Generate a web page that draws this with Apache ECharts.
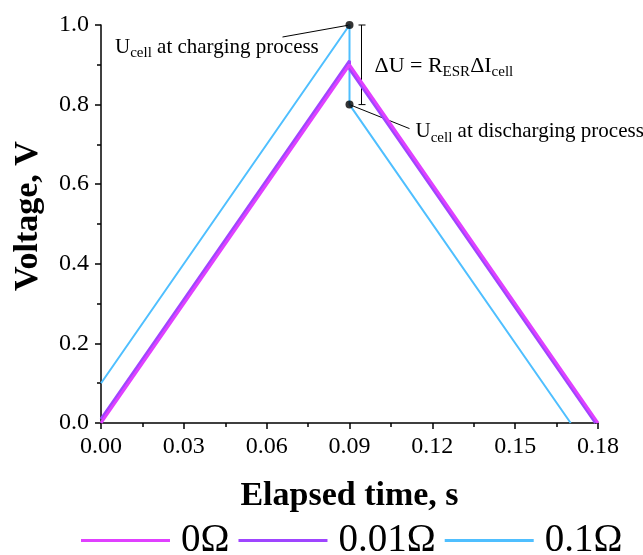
<!DOCTYPE html>
<html><head><meta charset="utf-8">
<script src="https://cdn.jsdelivr.net/npm/echarts@6/dist/echarts.min.js"></script>
<style>html,body{margin:0;padding:0;background:#fff}#c{width:643px;height:555px}</style>
</head><body><div id="c"></div>
<script>
const seriesNames = ['0Ω', '0.01Ω', '0.1Ω'];
const colors = ['#E040FF', '#9F45FF', '#4FBFFF'];
const time0 = [0, 0.09, 0.18];
const volt0 = [0, 0.9, 0];
const time1 = [0, 0.09, 0.09, 0.1791];
const volt1 = [0.01, 0.91, 0.89, 0];
const time2 = [0, 0.09, 0.09, 0.1701];
const volt2 = [0.1, 1.0, 0.8, 0];
const markTime = [0.09, 0.09];
const markVolt = [1.0, 0.8];
const xTickLabels = ['0.00', '0.03', '0.06', '0.09', '0.12', '0.15', '0.18'];
const yTickLabels = ['0.0', '0.2', '0.4', '0.6', '0.8', '1.0'];

const FONT = 'Liberation Serif';
const zip = (a, b) => a.map((v, i) => [v, b[i]]);
const chart = echarts.init(document.getElementById('c'));
const lineSeries = [[time0, volt0], [time1, volt1], [time2, volt2]].map((d, i) => ({
  name: seriesNames[i], type: 'line', data: zip(d[0], d[1]), symbol: 'none',
  lineStyle: { color: colors[i], width: i === 2 ? 2 : 3 }, itemStyle: { color: colors[i] },
  z: 3 - i, animation: false
}));
chart.setOption({
  animation: false,
  grid: { left: 101, right: 45, top: 25, bottom: 132 },
  xAxis: {
    type: 'value', min: 0, max: 0.18, interval: 0.03,
    name: 'Elapsed time, s', nameLocation: 'middle', nameGap: 56,
    nameTextStyle: { fontFamily: FONT, fontSize: 34, fontWeight: 'bold', color: '#000' },
    axisLine: { show: true, lineStyle: { color: '#000', width: 1.5 } },
    axisTick: { show: true, inside: false, length: 6, lineStyle: { color: '#000', width: 1.5 } },
    minorTick: { show: true, splitNumber: 2, length: 4, lineStyle: { color: '#000', width: 1.5 } },
    splitLine: { show: false },
    axisLabel: { fontFamily: FONT, fontSize: 24, color: '#000', margin: 12,
      formatter: (v) => xTickLabels[Math.round(v / 0.03)] }
  },
  yAxis: {
    type: 'value', min: 0, max: 1.0, interval: 0.2,
    name: 'Voltage, V', nameLocation: 'middle', nameGap: 56,
    nameTextStyle: { fontFamily: FONT, fontSize: 34, fontWeight: 'bold', color: '#000', padding: [0, 0, 0, 16] },
    axisLine: { show: true, lineStyle: { color: '#000', width: 1.5 } },
    axisTick: { show: true, inside: false, length: 6, lineStyle: { color: '#000', width: 1.5 } },
    minorTick: { show: true, splitNumber: 2, length: 4, lineStyle: { color: '#000', width: 1.5 } },
    splitLine: { show: false },
    axisLabel: { fontFamily: FONT, fontSize: 24, color: '#000', margin: 12,
      formatter: (v) => yTickLabels[Math.round(v / 0.2)] }
  },
  legend: {
    data: seriesNames, left: 76, top: 516, itemWidth: 89, itemHeight: 3, itemGap: 9,
    icon: 'rect',
    textStyle: { fontFamily: FONT, fontSize: 39, color: '#000', padding: [0, 0, 0, 6] }
  },
  series: lineSeries.concat([{
    name: 'marks', type: 'scatter', data: zip(markTime, markVolt), symbolSize: 8,
    itemStyle: { color: '#000' }, z: 10, animation: false
  }])
});

const pTop = chart.convertToPixel({ gridIndex: 0 }, [markTime[0], markVolt[0]]);
const pBot = chart.convertToPixel({ gridIndex: 0 }, [markTime[1], markVolt[1]]);
const bx = pTop[0] + 12;
const txtStyle = { fontFamily: FONT, fill: '#000' };
const richSmall = (n, s, pad) => ({ n: { fontFamily: FONT, fontSize: n }, s: { fontFamily: FONT, fontSize: s, padding: [pad, 0, 0, 0] } });
chart.setOption({
  graphic: [
    { type: 'line', shape: { x1: pTop[0], y1: pTop[1], x2: pTop[0] - 67, y2: pTop[1] + 12 },
      style: { stroke: '#000', lineWidth: 1 } },
    { type: 'line', shape: { x1: pBot[0], y1: pBot[1], x2: pBot[0] + 60, y2: pBot[1] + 24 },
      style: { stroke: '#000', lineWidth: 1 } },
    { type: 'line', shape: { x1: bx, y1: pTop[1], x2: bx, y2: pBot[1] }, style: { stroke: '#000', lineWidth: 1 } },
    { type: 'line', shape: { x1: bx - 3, y1: pTop[1], x2: bx + 4, y2: pTop[1] }, style: { stroke: '#000', lineWidth: 1 } },
    { type: 'line', shape: { x1: bx - 3, y1: pBot[1], x2: bx + 4, y2: pBot[1] }, style: { stroke: '#000', lineWidth: 1 } },
    { type: 'text', x: 115, y: pTop[1] + 22, style: Object.assign({}, txtStyle, {
      text: '{n|U}{s|cell}{n| at charging process}', verticalAlign: 'middle',
      rich: richSmall(21, 15, 12) }) },
    { type: 'text', x: bx + 13, y: (pTop[1] + pBot[1]) / 2 + 1, style: Object.assign({}, txtStyle, {
      text: '{n|ΔU = R}{s|ESR}{n|ΔI}{s|cell}', verticalAlign: 'middle',
      rich: richSmall(22, 15, 13) }) },
    { type: 'text', x: pBot[0] + 66, y: pBot[1] + 27, style: Object.assign({}, txtStyle, {
      text: '{n|U}{s|cell}{n| at discharging process}', verticalAlign: 'middle',
      rich: richSmall(21, 15, 12) }) }
  ]
});
</script></body></html>
